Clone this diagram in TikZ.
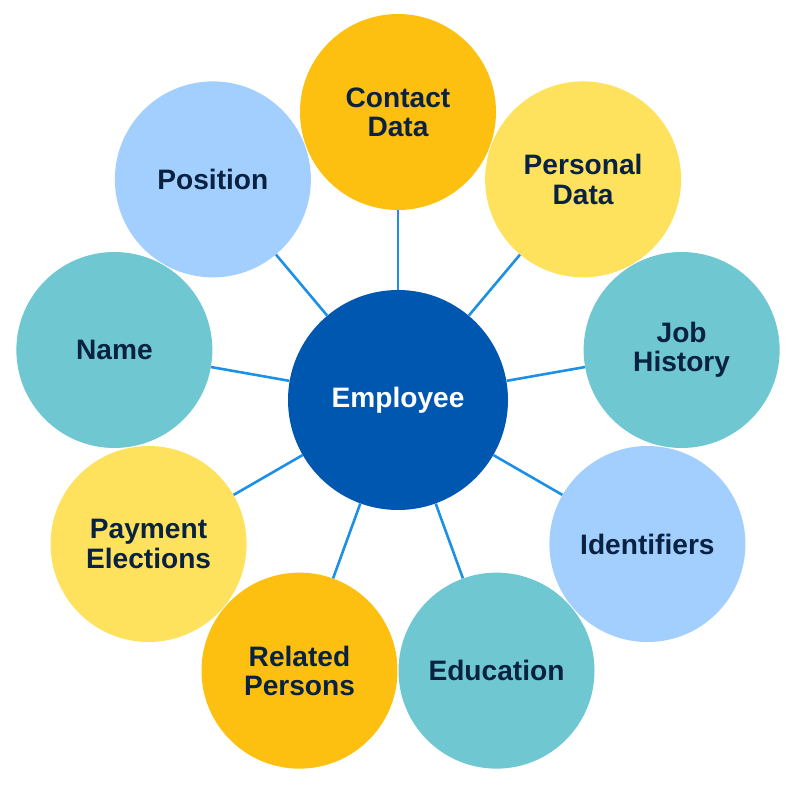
\documentclass[tikz,border=0pt]{standalone}
\usepackage{fontspec}
\setmainfont{Liberation Sans}
\usepackage{tikz}
\usepackage{xcolor}

\definecolor{hubblue}{HTML}{0057B0}
\definecolor{amber}{HTML}{FDC010}
\definecolor{lemon}{HTML}{FEE25E}
\definecolor{teal}{HTML}{6FC8D1}
\definecolor{skyblue}{HTML}{A2CFFE}
\definecolor{navy}{HTML}{0A2242}
\definecolor{linkblue}{HTML}{1C8FE6}

\begin{document}
\begin{tikzpicture}[
          hub/.style={circle, fill=hubblue, minimum size=6.6cm, inner sep=0pt, align=center,
            text=white, font=\fontsize{24}{25}\selectfont\bfseries},
          topic/.style={circle, minimum size=5.88cm, inner sep=0pt, align=center,
            text=navy, font=\fontsize{24}{25}\selectfont\bfseries},
          link/.style={draw=linkblue, line width=2.2pt}
        ]
          \useasboundingbox (-11.94,-11.58) rectangle (12.06,12);

          \node[hub] (employee) at (0,0) {Employee};

          \node[topic, fill=amber] (contact) at (90:8.64) {Contact\\Data};
          \node[topic, fill=lemon] (personal) at (50:8.64) {Personal\\Data};
          \node[topic, fill=teal] (job) at (10:8.64) {Job\\History};
          \node[topic, fill=skyblue] (ident) at (-30:8.64) {Identifiers};
          \node[topic, fill=teal] (edu) at (-70:8.64) {Education};
          \node[topic, fill=amber] (related) at (-110:8.64) {Related\\Persons};
          \node[topic, fill=lemon] (payment) at (-150:8.64) {Payment\\Elections};
          \node[topic, fill=teal] (name) at (170:8.64) {Name};
          \node[topic, fill=skyblue] (position) at (130:8.64) {Position};

          \draw[link] (employee) -- (contact);
          \draw[link] (employee) -- (personal);
          \draw[link] (employee) -- (job);
          \draw[link] (employee) -- (ident);
          \draw[link] (employee) -- (edu);
          \draw[link] (employee) -- (related);
          \draw[link] (employee) -- (payment);
          \draw[link] (employee) -- (name);
          \draw[link] (employee) -- (position);
        \end{tikzpicture}
\end{document}
